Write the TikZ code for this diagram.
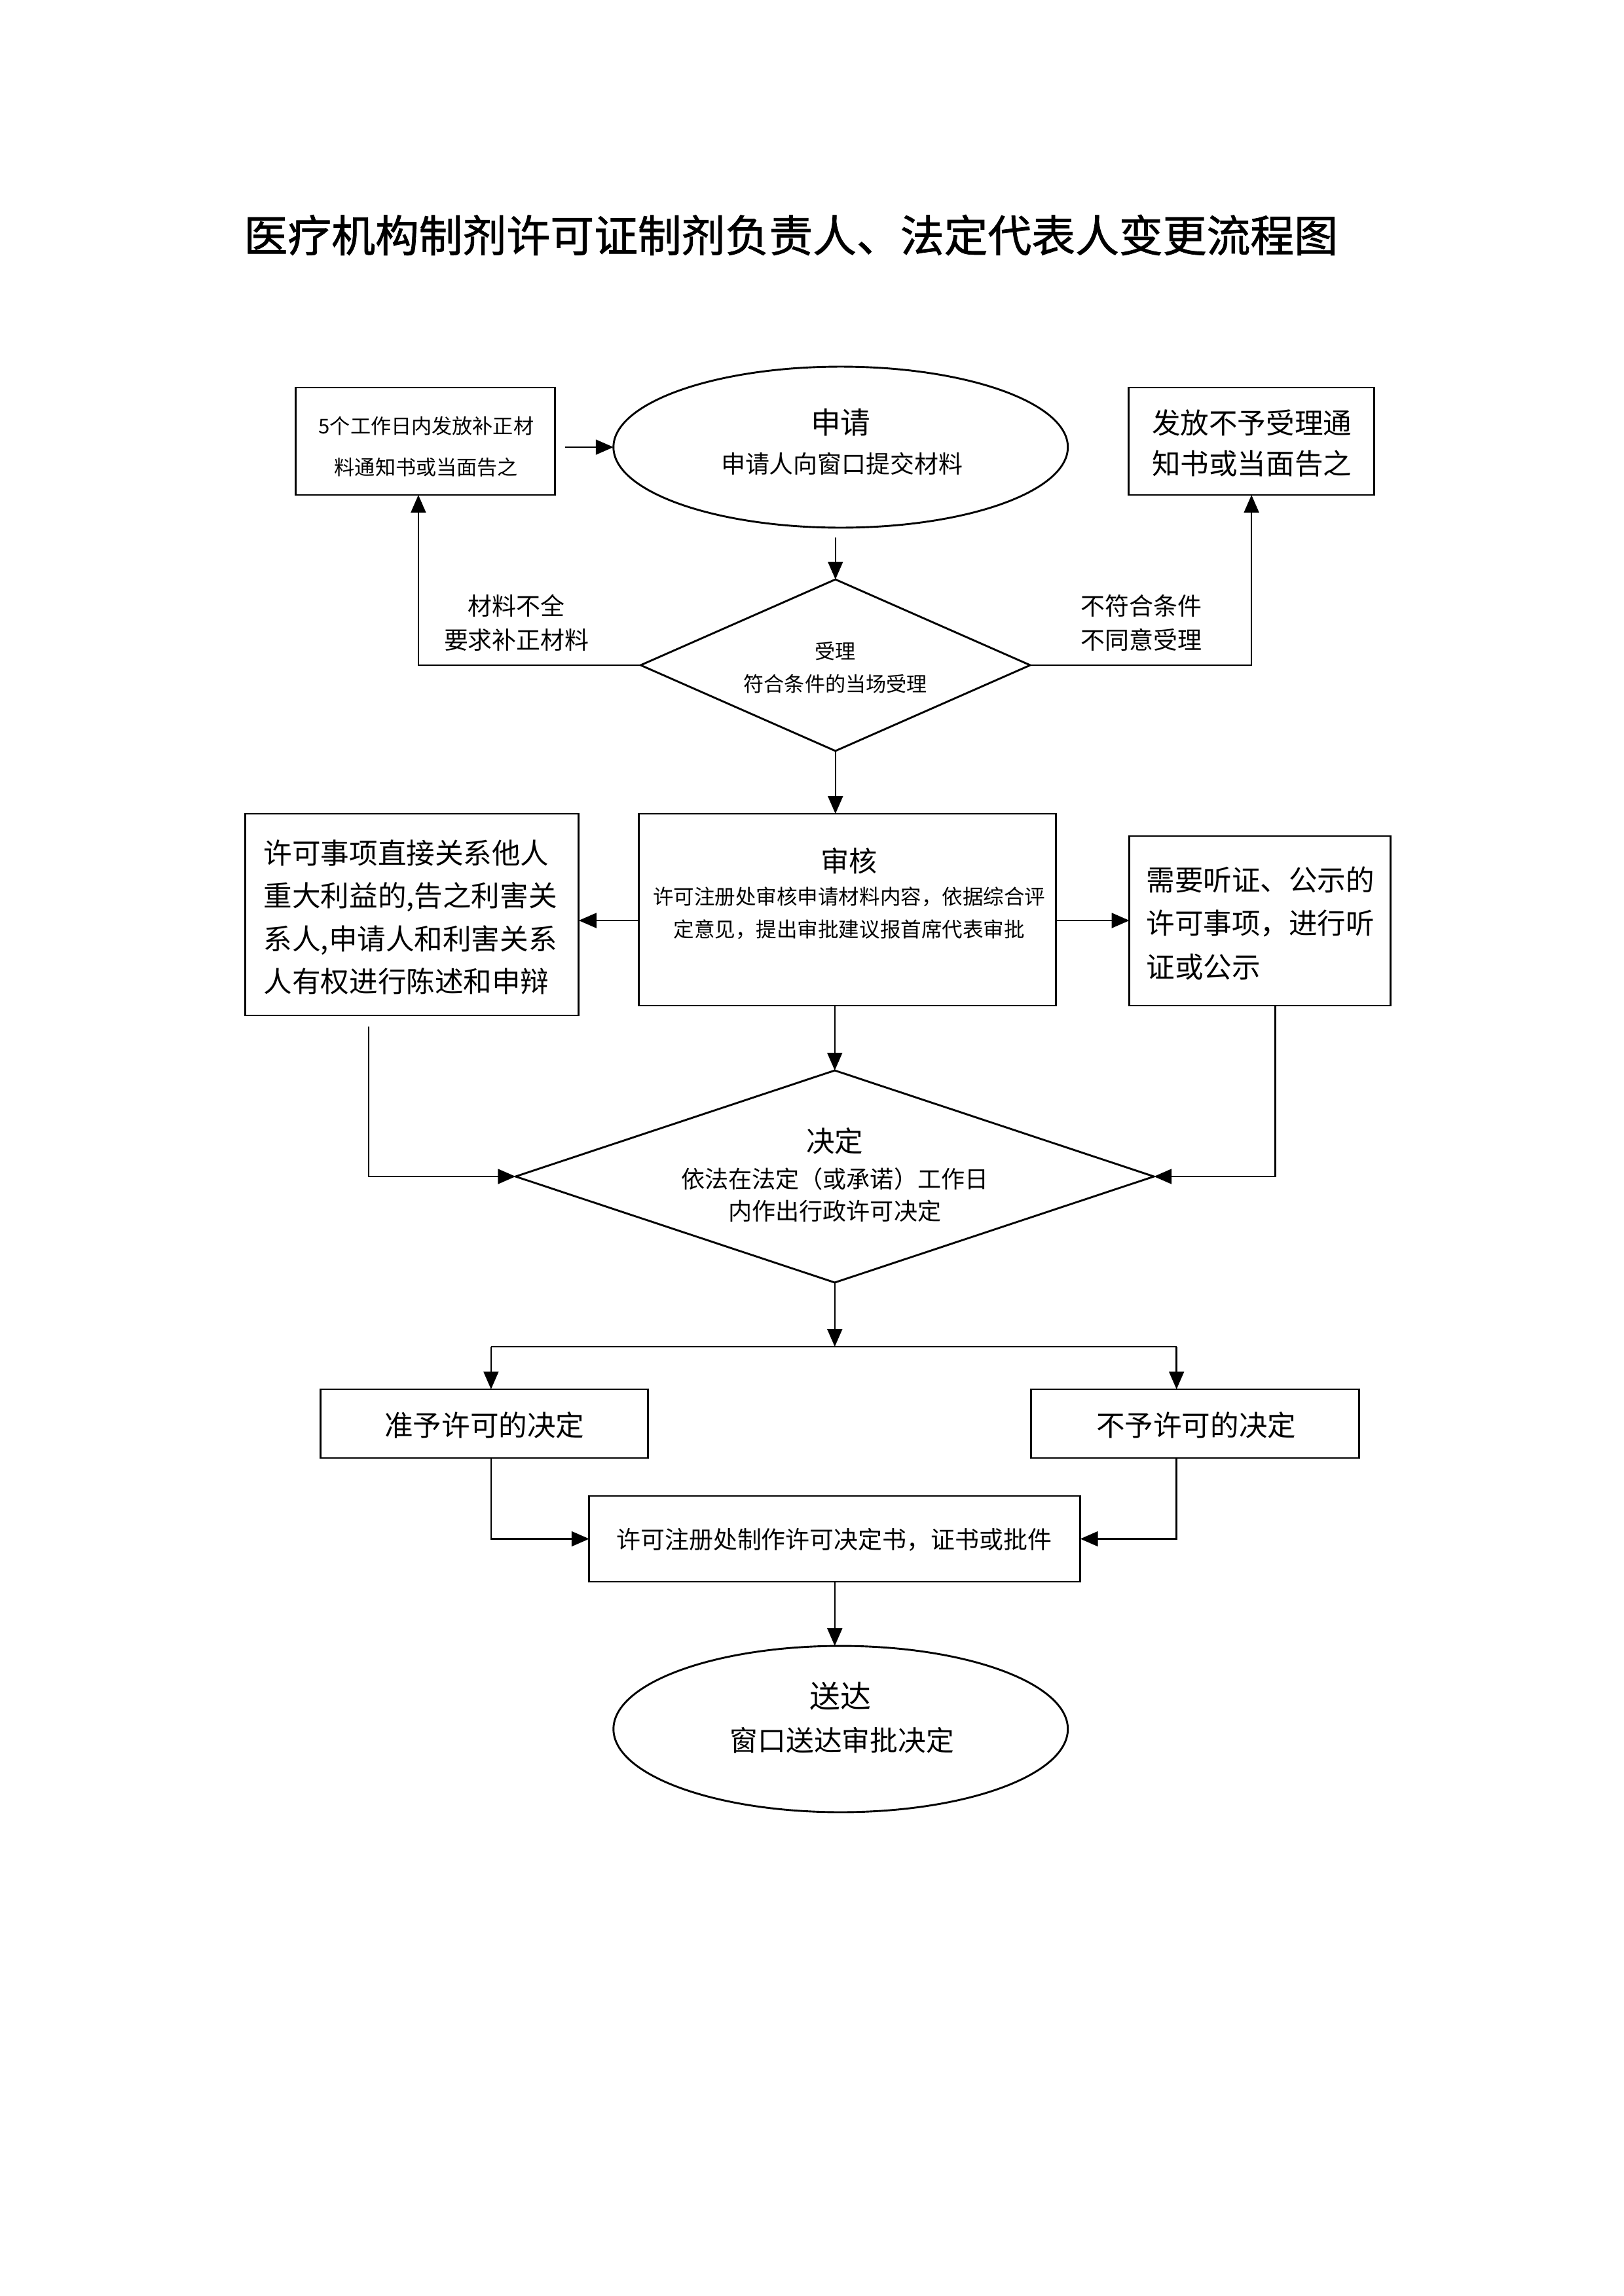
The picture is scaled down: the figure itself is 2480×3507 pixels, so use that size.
\documentclass[tikz,border=0pt]{standalone}
\usepackage{fontspec}
\setmainfont{Noto Sans CJK SC}
\newfontfamily\titlefont{Noto Sans CJK SC}[FakeBold=1.2]
\usetikzlibrary{arrows.meta,shapes.geometric,fit,calc}
\newcommand\fsz[2]{\fontsize{#1}{#2}\selectfont}
\newcommand\pxlen{0.0846774mm}
\begin{document}
\begin{tikzpicture}[x=0.0846774mm,y=-0.0846878mm,
  box/.style={draw,line width=0.7pt,inner sep=0pt,outer sep=0pt},
  shp/.style={draw,line width=0.7pt,inner sep=0pt,outer sep=0pt},
  arr/.style={line width=0.6pt,-{Triangle[length=6.5pt,width=5.5pt]}},
  ln/.style={line width=0.6pt},
  txt/.style={inner sep=0pt,align=center}]
\useasboundingbox (0,0) rectangle (2480,3507);

% title
\node[txt,font={\titlefont\fsz{16.1}{20}}] (title) at (1208,359) {医疗机构制剂许可证制剂负责人、法定代表人变更流程图};

% row 1
\node[box,fit={(452,592)(848,756)}] (b1) {};
\node[txt,font={\fsz{7.5}{15.3}}] (t1) at (651,682) {5个工作日内发放补正材\\料通知书或当面告之};
\node[shp,ellipse,minimum width=694*\pxlen,minimum height=246*\pxlen] (e1) at (1284,683) {};
\node[txt,font={\fsz{11}{13}}] (e1a) at (1284,645) {申请};
\node[txt,font={\fsz{8.9}{11}}] (e1b) at (1286,708) {申请人向窗口提交材料};
\node[box,fit={(1724,592)(2099,756)}] (b2) {};
\node[txt,font={\fsz{10.5}{15}}] (t2) at (1912,677) {发放不予受理通\\知书或当面告之};

% diamond 1
\node[shp,diamond,minimum width=595*\pxlen,minimum height=262*\pxlen] (d1) at (1276,1016) {};
\node[txt,font={\fsz{7.5}{9}}] (d1a) at (1276,995) {受理};
\node[txt,font={\fsz{7.5}{9}}] (d1b) at (1276,1045) {符合条件的当场受理};
\node[txt,font={\fsz{8.9}{12.5}}] (l1) at (789,951) {材料不全\\要求补正材料};
\node[txt,font={\fsz{8.9}{12.5}}] (l2) at (1743,951) {不符合条件\\不同意受理};

% row 2
\node[box,fit={(375,1243)(884,1551)}] (b4) {};
\node[txt,align=left,anchor=west,font={\fsz{10.5}{15.8}}] (t4) at (402,1401) {许可事项直接关系他人\\重大利益的,告之利害关\\系人,申请人和利害关系\\人有权进行陈述和申辩};
\node[box,fit={(976,1243)(1613,1536)}] (b3) {};
\node[txt,font={\fsz{10.4}{12}}] (b3a) at (1297,1315) {审核};
\node[txt,font={\fsz{7.6}{12}}] (b3b) at (1297,1395) {许可注册处审核申请材料内容，依据综合评\\定意见，提出审批建议报首席代表审批};
\node[box,fit={(1725,1277)(2124,1536)}] (b5) {};
\node[txt,align=left,anchor=west,font={\fsz{10.5}{16}}] (t5) at (1750,1410) {需要听证、公示的\\许可事项，进行听\\证或公示};

% diamond 2
\node[shp,diamond,minimum width=975*\pxlen,minimum height=324*\pxlen] (d2) at (1275,1797) {};
\node[txt,font={\fsz{10.5}{12}}] (d2a) at (1275,1743) {决定};
\node[txt,font={\fsz{8.7}{12}}] (d2b) at (1275,1825) {依法在法定（或承诺）工作日\\内作出行政许可决定};

% row 3
\node[box,fit={(490,2122)(990,2227)}] (b6) {};
\node[txt,font={\fsz{10.5}{12}}] (t6) at (740,2177) {准予许可的决定};
\node[box,fit={(1575,2122)(2076,2227)}] (b7) {};
\node[txt,font={\fsz{10.5}{12}}] (t7) at (1827,2177) {不予许可的决定};
\node[box,fit={(900,2285)(1650,2416)}] (b8) {};
\node[txt,font={\fsz{8.9}{12}}] (t8) at (1274,2352) {许可注册处制作许可决定书，证书或批件};

% end
\node[shp,ellipse,minimum width=694*\pxlen,minimum height=254*\pxlen] (e2) at (1284,2641) {};
\node[txt,font={\fsz{11.3}{13}}] (e2a) at (1284,2591) {送达};
\node[txt,font={\fsz{10.3}{12}}] (e2b) at (1286,2658) {窗口送达审批决定};

% helper coordinates
\coordinate (a1) at (1276,821);
\coordinate (lx) at (639,0);
\coordinate (ay) at (0,1406);
\coordinate (lb) at (563,1568);
\coordinate (rb) at (1948,1536);
\coordinate (split) at (1275,2057);
\coordinate (sl) at (750,2057);
\coordinate (sr) at (1797,2057);

% connectors
\draw[arr] ($(b1.east |- e1.west)+(15,0)$) -- (e1.west);
\draw[arr] (a1) -- (d1.north);
\draw[arr] (d1.west) -| (b1.south -| lx);
\draw[arr] (d1.east) -| (b2.south);
\draw[arr] (d1.south) -- (d1.south |- b3.north);
\draw[arr] (b3.west |- ay) -- (b4.east |- ay);
\draw[arr] (b3.east |- ay) -- (b5.west |- ay);
\draw[arr] (b3.south -| d2.north) -- (d2.north);
\draw[arr] (lb) |- (d2.west);
\draw[arr] (rb) |- (d2.east);
\draw[arr] (d2.south) -- (split);
\draw[ln] (sl) -- (sr);
\draw[arr] (sl) -- (sl |- b6.north);
\draw[arr] (sr) -- (sr |- b7.north);
\draw[arr] (sl |- b6.south) |- (b8.west);
\draw[arr] (sr |- b7.south) |- (b8.east);
\draw[arr] (b8.south) -- (b8.south |- e2.north);
\end{tikzpicture}
\end{document}
